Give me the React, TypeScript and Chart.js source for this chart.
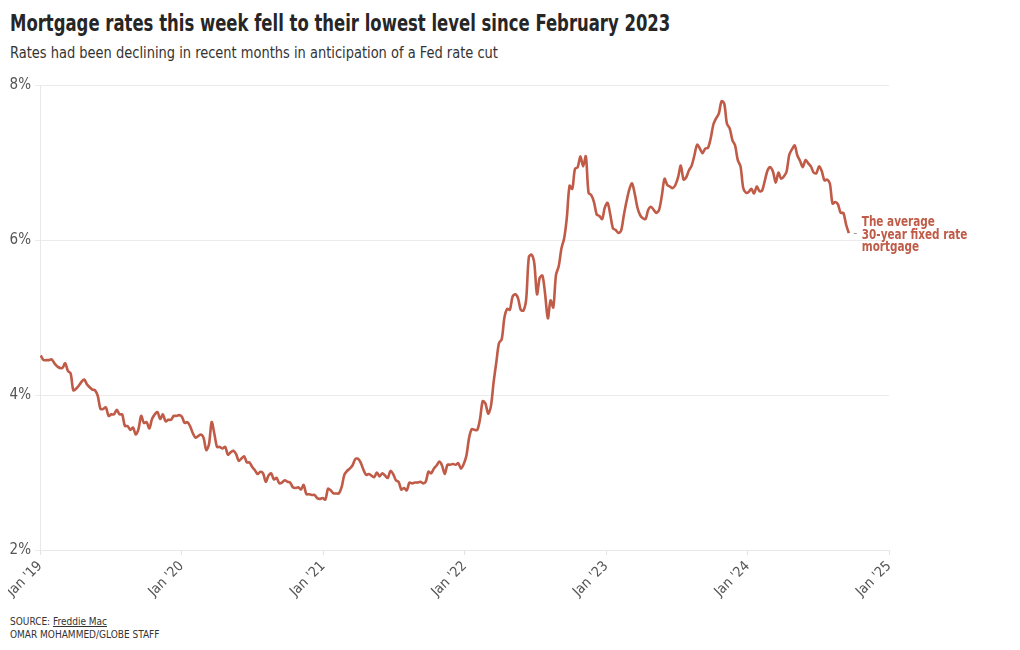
import React, { useEffect, useRef } from "react";
import { Chart, registerables } from "chart.js";

Chart.register(...registerables);

const TITLE = "Mortgage rates this week fell to their lowest level since February 2023";
const SUBTITLE = "Rates had been declining in recent months in anticipation of a Fed rate cut";
const ANNOTATION = ["The average", "30-year fixed rate", "mortgage"];
const FIRST_WEEK = "2019-01-03";
const TICK_YEARS = [2019, 2020, 2021, 2022, 2023, 2024, 2025];
const Y_TICKS = [2, 4, 6, 8];

const rates2019 = [4.51, 4.45, 4.45, 4.45, 4.46, 4.41, 4.37, 4.35, 4.35, 4.41, 4.31, 4.28, 4.06, 4.08, 4.12, 4.17, 4.2, 4.14, 4.1, 4.07, 4.06, 3.99, 3.82, 3.82, 3.84, 3.73, 3.75, 3.75, 3.81, 3.75, 3.75, 3.6, 3.6, 3.55, 3.58, 3.49, 3.56, 3.73, 3.64, 3.65, 3.57, 3.69, 3.75, 3.78, 3.69, 3.75, 3.66, 3.68, 3.68, 3.73, 3.73, 3.74];
const rates2020 = [3.72, 3.64, 3.65, 3.6, 3.51, 3.45, 3.47, 3.49, 3.45, 3.29, 3.36, 3.65, 3.5, 3.33, 3.33, 3.31, 3.33, 3.23, 3.26, 3.28, 3.24, 3.15, 3.18, 3.21, 3.13, 3.13, 3.07, 3.03, 2.98, 3.01, 2.99, 2.88, 2.96, 2.99, 2.91, 2.93, 2.86, 2.87, 2.9, 2.88, 2.87, 2.81, 2.8, 2.81, 2.78, 2.84, 2.72, 2.72, 2.71, 2.71, 2.67, 2.66, 2.67];
const rates2021 = [2.65, 2.79, 2.77, 2.73, 2.73, 2.73, 2.81, 2.97, 3.02, 3.05, 3.09, 3.17, 3.18, 3.13, 3.04, 2.97, 2.98, 2.96, 2.94, 3.0, 2.95, 2.99, 2.96, 2.93, 3.02, 2.98, 2.9, 2.88, 2.78, 2.8, 2.77, 2.87, 2.86, 2.87, 2.87, 2.88, 2.86, 2.88, 3.01, 2.99, 3.05, 3.09, 3.14, 3.09, 2.98, 3.1, 3.1, 3.11, 3.1, 3.12, 3.05, 3.11];
const rates2022 = [3.22, 3.45, 3.56, 3.55, 3.55, 3.69, 3.92, 3.89, 3.76, 3.85, 4.16, 4.42, 4.67, 4.72, 5.0, 5.11, 5.1, 5.27, 5.3, 5.25, 5.1, 5.09, 5.23, 5.78, 5.81, 5.7, 5.3, 5.51, 5.54, 5.3, 4.99, 5.22, 5.13, 5.55, 5.66, 5.89, 6.02, 6.29, 6.7, 6.66, 6.92, 6.94, 7.08, 6.95, 7.08, 6.61, 6.58, 6.49, 6.33, 6.31, 6.27, 6.42];
const rates2023 = [6.48, 6.33, 6.15, 6.13, 6.09, 6.12, 6.32, 6.5, 6.65, 6.73, 6.6, 6.42, 6.32, 6.28, 6.27, 6.39, 6.43, 6.39, 6.35, 6.39, 6.57, 6.79, 6.71, 6.69, 6.67, 6.71, 6.81, 6.96, 6.78, 6.81, 6.9, 6.96, 7.09, 7.23, 7.18, 7.12, 7.18, 7.19, 7.31, 7.49, 7.57, 7.63, 7.79, 7.76, 7.5, 7.44, 7.29, 7.22, 7.03, 6.95, 6.67, 6.61];
const rates2024 = [6.62, 6.66, 6.6, 6.69, 6.63, 6.64, 6.77, 6.9, 6.94, 6.88, 6.74, 6.87, 6.79, 6.82, 6.88, 7.1, 7.17, 7.22, 7.09, 7.02, 6.94, 7.03, 6.99, 6.95, 6.87, 6.86, 6.95, 6.89, 6.77, 6.78, 6.73, 6.47, 6.49, 6.46, 6.35, 6.35, 6.2, 6.09];

const LINE_COLOR = "#bf5b47";
const FONT = '"DejaVu Sans Condensed", "DejaVu Sans", sans-serif';

function yearFrac(t: number): number {
  const y = new Date(t).getUTCFullYear();
  const a = Date.UTC(y, 0, 1);
  const b = Date.UTC(y + 1, 0, 1);
  return y + (t - a) / (b - a);
}

export default function App() {
  const ref = useRef<HTMLCanvasElement | null>(null);

  useEffect(() => {
    const all = [...rates2019, ...rates2020, ...rates2021, ...rates2022, ...rates2023, ...rates2024];
    const start = Date.parse(FIRST_WEEK + "T00:00:00Z");
    const points = all.map((v, i) => ({ x: yearFrac(start + i * 7 * 86400000), y: v }));

    const annot = {
      id: "annot",
      afterDatasetsDraw(chart: any) {
        const meta = chart.getDatasetMeta(0);
        const last = meta.data[meta.data.length - 1];
        const ctx = chart.ctx;
        ctx.save();
        ctx.strokeStyle = "#999";
        ctx.lineWidth = 1;
        ctx.beginPath();
        ctx.moveTo(last.x + 5, last.y + 0.5);
        ctx.lineTo(last.x + 8, last.y + 0.5);
        ctx.stroke();
        ctx.translate(last.x + 13, last.y + 2);
        ctx.scale(0.83, 1);
        ctx.fillStyle = LINE_COLOR;
        ctx.font = "bold 14px " + FONT;
        ctx.textBaseline = "middle";
        ctx.textAlign = "left";
        const lh = 12.5;
        ANNOTATION.forEach((s, i) => {
          ctx.fillText(s, 0, (i - 1) * lh);
        });
        ctx.restore();
      },
    };

    const chart = new Chart(ref.current!, {
      type: "line",
      data: {
        datasets: [
          {
            data: points,
            borderColor: LINE_COLOR,
            borderWidth: 2.6,
            pointRadius: 0,
            tension: 0.3,
            fill: false,
          },
        ],
      },
      options: {
        animation: false,
        responsive: false,
        maintainAspectRatio: false,
        layout: { padding: { top: 10, right: 131, left: 0, bottom: 0 } },
        plugins: { legend: { display: false }, tooltip: { enabled: false } },
        scales: {
          x: {
            type: "linear",
            min: 2019,
            max: 2025,
            afterBuildTicks: (s: any) => {
              s.ticks = TICK_YEARS.map((v) => ({ value: v }));
            },
            afterFit: (s: any) => {
              s.height = 50;
            },
            ticks: {
              autoSkip: false,
              maxRotation: 45,
              minRotation: 45,
              padding: 3,
              color: "#555",
              font: { family: FONT, size: 14 },
              callback: (v: any) => "Jan '" + String(v).slice(2),
            },
            grid: { drawOnChartArea: false, drawTicks: true, tickLength: 5, color: "#e3e3e3" },
            border: { display: true, color: "#e8e8e8" },
          },
          y: {
            min: 2,
            max: 8,
            afterBuildTicks: (s: any) => {
              s.ticks = Y_TICKS.map((v) => ({ value: v }));
            },
            afterFit: (s: any) => {
              s.width = 40;
            },
            ticks: {
              padding: 4,
              color: "#555",
              font: { family: FONT, size: 15 },
              callback: (v: any) => v + "%",
            },
            grid: { color: "#ebebeb", tickLength: 5 },
            border: { display: true, color: "#e8e8e8" },
          },
        },
      },
      plugins: [annot],
    });
    return () => chart.destroy();
  }, []);

  return (
    <div style={{ position: "relative", width: 1004, height: 634, margin: 0, fontFamily: FONT }}>
      <div style={{ position: "absolute", left: 2, top: 2, fontSize: 23, fontWeight: 700, color: "#262626", whiteSpace: "nowrap", transform: "scaleX(0.796)", transformOrigin: "left top" }}>{TITLE}</div>
      <div style={{ position: "absolute", left: 2, top: 35, fontSize: 16, color: "#333", whiteSpace: "nowrap", transform: "scaleX(0.904)", transformOrigin: "left top" }}>{SUBTITLE}</div>
      <canvas ref={ref} width={1020} height={528} style={{ position: "absolute", left: -8, top: 64 }} />
      <div style={{ position: "absolute", left: 2, top: 607, fontSize: 10, color: "#333", lineHeight: "13px" }}>
        SOURCE: <span style={{ textDecoration: "underline" }}>Freddie Mac</span>
        <br />
        OMAR MOHAMMED/GLOBE STAFF
      </div>
    </div>
  );
}
